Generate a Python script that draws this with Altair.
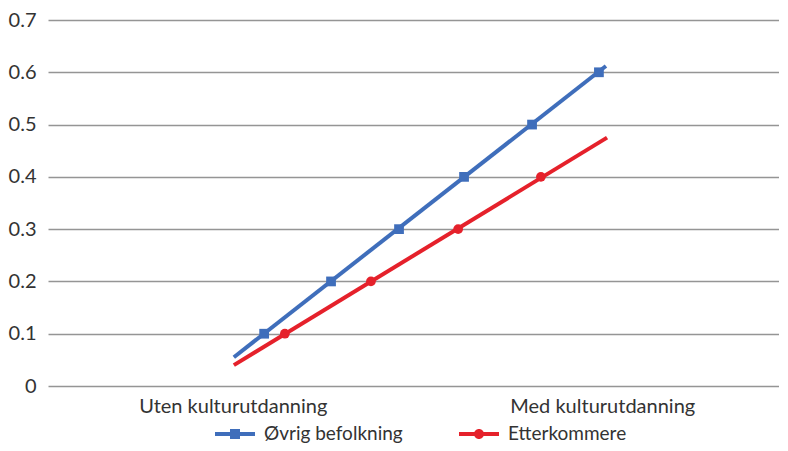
import altair as alt
import pandas as pd

categories = ["Uten kulturutdanning", "Med kulturutdanning"]
series = ["Øvrig befolkning", "Etterkommere"]
colors = ["#3F6EBB", "#E5212B"]

# x in category units: 0.5 = first category centre, 1.5 = second
blue_line_x = [0.503, 1.510]
blue_line_y = [0.055, 0.612]
red_line_x = [0.503, 1.513]
red_line_y = [0.040, 0.475]

blue_marker_x = [0.585, 0.766, 0.950, 1.126, 1.310, 1.491]
blue_marker_y = [0.1, 0.2, 0.3, 0.4, 0.5, 0.6]
red_marker_x = [0.641, 0.874, 1.110, 1.334]
red_marker_y = [0.1, 0.2, 0.3, 0.4]

lines = pd.DataFrame({
    "x": blue_line_x + red_line_x,
    "y": blue_line_y + red_line_y,
    "series": [series[0]] * len(blue_line_x) + [series[1]] * len(red_line_x),
})
blue_markers = pd.DataFrame({"x": blue_marker_x, "y": blue_marker_y, "series": series[0]})
red_markers = pd.DataFrame({"x": red_marker_x, "y": red_marker_y, "series": series[1]})

W = 731
xdom = [0, 2 * W / 739]
FONT = "Lato"
FS = 20
LFS = 19

xscale = alt.Scale(domain=xdom, nice=False, zero=False)
yscale = alt.Scale(domain=[0, 0.7], nice=False)
cscale = alt.Scale(domain=series, range=colors)

label_expr = "datum.value < 1 ? '%s' : '%s'" % (categories[0], categories[1])

x_enc = alt.X("x:Q", scale=xscale, axis=alt.Axis(
    values=[0.5, 1.5], labelExpr=label_expr, title=None, grid=False,
    ticks=False, tickSize=0, domain=False, labelPadding=10, labelLimit=0,
    labelFontSize=FS, labelFont=FONT, labelColor="#333333"))
y_enc = alt.Y("y:Q", scale=yscale, axis=alt.Axis(
    values=[0, 0.1, 0.2, 0.3, 0.4, 0.5, 0.6, 0.7], format=".1~f",
    title=None, grid=True, gridColor="#959595", gridWidth=1.6,
    ticks=False, tickSize=0, domain=False, labelPadding=12,
    labelFontSize=FS, labelFont=FONT, labelColor="#333333"))

blue_sym = "M-3,-0.2H-1.5V0.2H-3Z M-0.5,-0.2H1V0.2H-0.5Z M-1.5,-0.5H-0.5V0.5H-1.5Z"
red_sym = ("M-3,-0.2H-1.46V0.2H-3Z M-0.54,-0.2H1V0.2H-0.54Z "
           "M-0.5,0A0.5,0.5 0 1,1 -1.5,0A0.5,0.5 0 1,1 -0.5,0Z")

legend = alt.Legend(
    title=None, orient="none", direction="horizontal", legendX=187, legendY=404,
    symbolSize=400, symbolStrokeWidth=0, symbolOpacity=1,
    labelFontSize=LFS, labelFont=FONT, labelColor="#333333",
    labelOffset=9, columnPadding=56)
color = alt.Color("series:N", scale=cscale, legend=legend)

line_layer = alt.Chart(lines).mark_line(strokeWidth=4, clip=False).encode(
    x=x_enc, y=y_enc, color=color, detail="series:N",
)

blue_pts = alt.Chart(blue_markers).mark_point(
    filled=True, opacity=1, size=95, shape="square").encode(
    x=x_enc, y=y_enc, color=color,
)
red_pts = alt.Chart(red_markers).mark_point(
    filled=True, opacity=1, size=95, shape="circle").encode(
    x=x_enc, y=y_enc, color=color,
)

legend_layer = alt.Chart(lines).mark_point(filled=True, opacity=0).encode(
    x=x_enc, y=y_enc, color=color,
    shape=alt.Shape("series:N", scale=alt.Scale(domain=series, range=[blue_sym, red_sym]),
                    legend=legend),
)

chart = alt.layer(line_layer, blue_pts, red_pts, legend_layer).properties(
    width=W, height=366,
    padding={"left": 0, "top": 2, "right": 0, "bottom": 0},
).configure_view(stroke=None)

chart.save("out.html", embed_options={"renderer": "svg", "actions": False})
